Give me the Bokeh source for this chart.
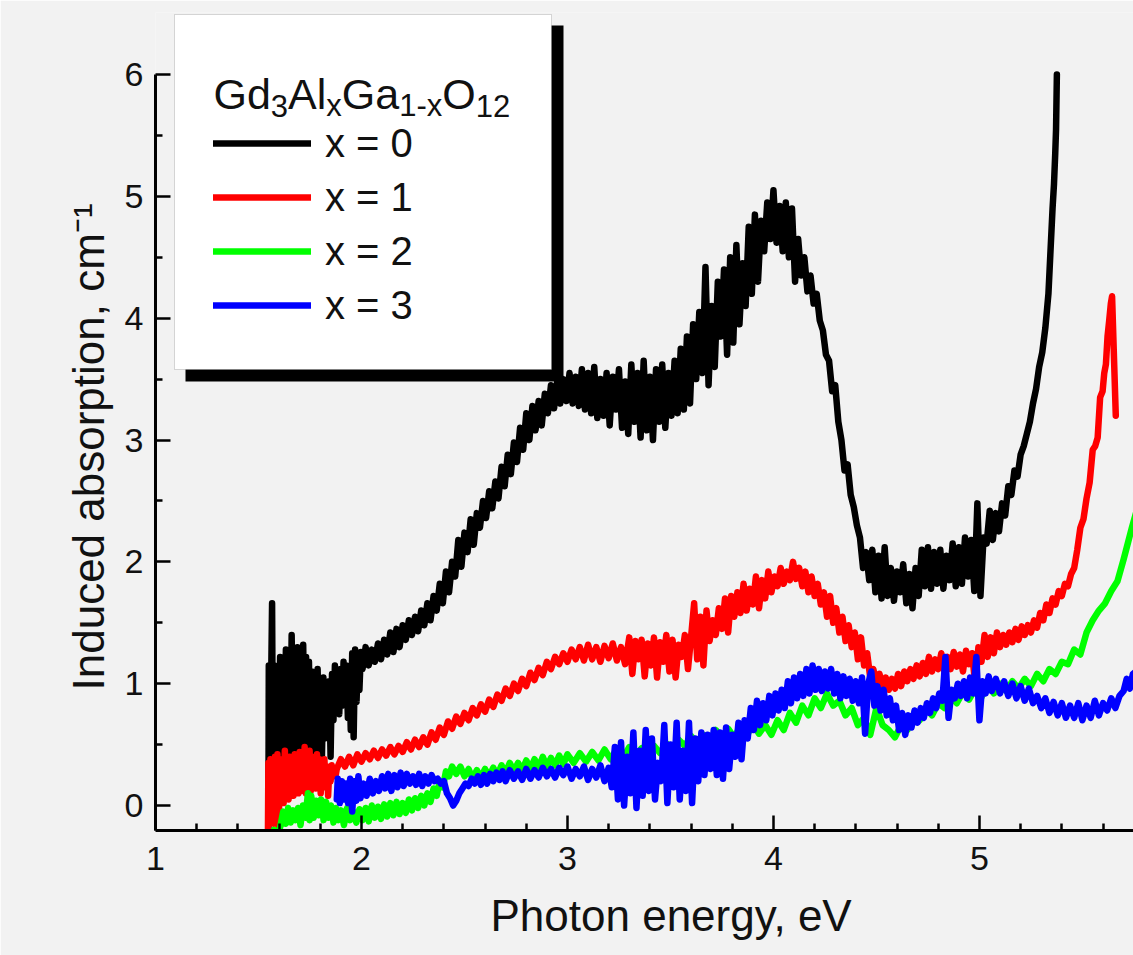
from bokeh.plotting import figure
from bokeh.models import Range1d, FixedTicker, BoxAnnotation, Label, Legend, LegendItem, Title
from bokeh.embed import file_html
from bokeh.resources import INLINE

# ---------------- data ----------------
X_TICKS = [1, 2, 3, 4, 5]
X_MINOR = [1.2, 1.4, 1.6, 1.8, 2.2, 2.4, 2.6, 2.8, 3.2, 3.4, 3.6, 3.8,
           4.2, 4.4, 4.6, 4.8, 5.2, 5.4, 5.6]
Y_TICKS = [0, 1, 2, 3, 4, 5, 6]
Y_MINOR = [0.5, 1.5, 2.5, 3.5, 4.5, 5.5]

X_TITLE = "Photon energy, eV"
Y_TITLE = "Induced absorption, cm\u207b\u00b9"
SERIES_LABELS = ["x = 0", "x = 1", "x = 2", "x = 3"]

BLACK = [
    (1.548, -0.20), (1.550, 1.15), (1.556, 0.20), (1.562, 1.10), (1.566, 1.66), (1.570, 0.30),
    (1.577, 1.15), (1.584, 0.25), (1.591, 1.05), (1.598, 0.35), (1.605, 1.22), (1.612, 0.30),
    (1.619, 1.15), (1.626, 0.40), (1.633, 1.28), (1.640, 0.35), (1.647, 1.20), (1.654, 0.45),
    (1.661, 1.40), (1.668, 0.40), (1.675, 1.25), (1.682, 0.35), (1.689, 1.30), (1.696, 0.45),
    (1.703, 1.20), (1.710, 0.40), (1.717, 1.32), (1.724, 0.50), (1.731, 1.22), (1.738, 0.45),
    (1.745, 1.18), (1.752, 0.40), (1.759, 1.10), (1.766, 0.50), (1.773, 1.05), (1.780, 0.35),
    (1.787, 1.12), (1.794, 0.55), (1.801, 0.98), (1.808, 0.40), (1.815, 1.05), (1.822, 0.55),
    (1.829, 0.95), (1.836, 0.60), (1.843, 1.02), (1.850, 0.40), (1.857, 1.08), (1.864, 0.70),
    (1.871, 1.15), (1.878, 0.85), (1.885, 1.05), (1.892, 0.75), (1.899, 1.12), (1.906, 0.82),
    (1.913, 1.18), (1.920, 0.88), (1.927, 1.15), (1.934, 0.72), (1.941, 1.08), (1.948, 0.62),
    (1.955, 1.25), (1.962, 0.56), (1.969, 1.28), (1.976, 0.85), (1.983, 1.22), (1.990, 0.95),
    (1.997, 1.26),
    (2.005, 1.12), (2.020, 1.30), (2.035, 1.15), (2.050, 1.28), (2.065, 1.18), (2.080, 1.33),
    (2.095, 1.20), (2.110, 1.36), (2.125, 1.24), (2.140, 1.42), (2.155, 1.26), (2.170, 1.45),
    (2.185, 1.30), (2.200, 1.48), (2.215, 1.36), (2.230, 1.52), (2.245, 1.40), (2.260, 1.55),
    (2.275, 1.43), (2.290, 1.60), (2.305, 1.48), (2.320, 1.66), (2.335, 1.52), (2.350, 1.72),
    (2.365, 1.60), (2.380, 1.82), (2.395, 1.66), (2.410, 1.92), (2.425, 1.75), (2.440, 2.00),
    (2.455, 1.88), (2.470, 2.18), (2.485, 1.96), (2.500, 2.24), (2.515, 2.08), (2.530, 2.35),
    (2.545, 2.14), (2.560, 2.40), (2.575, 2.28), (2.590, 2.50), (2.605, 2.36), (2.620, 2.58),
    (2.635, 2.44), (2.650, 2.66), (2.665, 2.52), (2.680, 2.78), (2.695, 2.62), (2.710, 2.88),
    (2.725, 2.72), (2.740, 2.98), (2.755, 2.82), (2.770, 3.10), (2.785, 2.92), (2.800, 3.22),
    (2.815, 3.00), (2.830, 3.28), (2.845, 3.08), (2.860, 3.32), (2.875, 3.12), (2.890, 3.38),
    (2.905, 3.22), (2.920, 3.45), (2.935, 3.26), (2.950, 3.48), (2.965, 3.30), (2.980, 3.50),
    (2.995, 3.32),
    (3.010, 3.55), (3.025, 3.30), (3.040, 3.52), (3.055, 3.28), (3.070, 3.58), (3.085, 3.25),
    (3.100, 3.55), (3.115, 3.22), (3.130, 3.60), (3.145, 3.18), (3.160, 3.50), (3.175, 3.20),
    (3.190, 3.55), (3.205, 3.12), (3.220, 3.52), (3.235, 3.25), (3.250, 3.58), (3.265, 3.10),
    (3.280, 3.48), (3.295, 3.05), (3.310, 3.62), (3.325, 3.15), (3.340, 3.55), (3.355, 3.02),
    (3.370, 3.65), (3.385, 3.08), (3.400, 3.52), (3.415, 3.00), (3.430, 3.58), (3.445, 3.15),
    (3.460, 3.62), (3.475, 3.10), (3.490, 3.55), (3.505, 3.20), (3.520, 3.65), (3.535, 3.22),
    (3.550, 3.75),
    (3.565, 3.25), (3.580, 3.85), (3.595, 3.30), (3.610, 3.95), (3.625, 3.50), (3.640, 4.05),
    (3.655, 3.55), (3.670, 4.42), (3.685, 3.45), (3.700, 4.10), (3.715, 3.60), (3.730, 4.30),
    (3.745, 3.85), (3.760, 4.40), (3.775, 3.70), (3.790, 4.50), (3.805, 3.80), (3.820, 4.60),
    (3.835, 3.95), (3.850, 4.45), (3.865, 4.10), (3.880, 4.75), (3.895, 4.20), (3.910, 4.85),
    (3.925, 4.30), (3.940, 4.80), (3.955, 4.55), (3.970, 4.95), (3.985, 4.65), (4.000, 5.05),
    (4.015, 4.62), (4.030, 4.92), (4.045, 4.55), (4.060, 4.95), (4.075, 4.50), (4.090, 4.90),
    (4.105, 4.30), (4.120, 4.65), (4.135, 4.35), (4.150, 4.50), (4.165, 4.22), (4.180, 4.35),
    (4.195, 4.12), (4.210, 4.20), (4.225, 3.98), (4.240, 3.90), (4.255, 3.70), (4.270, 3.65),
    (4.285, 3.40), (4.300, 3.45),
    (4.315, 3.15), (4.330, 3.00), (4.345, 2.75), (4.360, 2.80), (4.375, 2.55), (4.390, 2.45),
    (4.405, 2.30), (4.420, 2.20), (4.435, 1.95), (4.450, 2.08),
    (4.465, 1.85), (4.480, 2.10), (4.495, 1.75), (4.510, 2.05), (4.525, 1.70), (4.540, 2.12),
    (4.555, 1.72), (4.570, 1.95), (4.585, 1.68), (4.600, 1.92), (4.615, 1.75), (4.630, 1.98),
    (4.645, 1.66), (4.660, 1.90), (4.675, 1.62), (4.690, 1.95), (4.705, 1.72), (4.720, 2.10),
    (4.735, 1.80), (4.750, 2.12), (4.765, 1.78), (4.780, 2.08), (4.795, 1.82), (4.810, 2.10),
    (4.825, 1.78), (4.840, 2.05), (4.855, 1.85), (4.870, 2.15), (4.885, 1.80), (4.900, 2.12),
    (4.915, 1.82), (4.930, 2.20), (4.945, 1.88), (4.960, 2.18), (4.975, 1.76), (4.990, 2.48),
    (5.005, 1.72), (5.020, 2.20),
    (5.035, 2.15), (5.050, 2.42), (5.065, 2.18), (5.080, 2.40), (5.095, 2.25), (5.110, 2.48),
    (5.125, 2.38), (5.140, 2.62), (5.155, 2.55), (5.170, 2.75), (5.185, 2.70), (5.200, 2.88),
    (5.215, 2.95), (5.230, 3.05), (5.245, 3.15), (5.260, 3.30), (5.275, 3.42), (5.290, 3.60),
    (5.305, 3.72), (5.320, 3.92), (5.335, 4.20), (5.345, 4.55), (5.355, 4.90), (5.362, 5.10),
    (5.368, 5.35), (5.372, 5.55), (5.376, 6.00),
]

RED = [
    (1.546, -0.20), (1.548, 0.35), (1.553, -0.10), (1.558, 0.38), (1.563, 0.00), (1.568, 0.30),
    (1.574, -0.15), (1.580, 0.40), (1.586, 0.05), (1.592, 0.42), (1.598, -0.18), (1.604, 0.33),
    (1.610, 0.08), (1.616, 0.38), (1.622, 0.02), (1.628, 0.45), (1.634, 0.10), (1.640, 0.35),
    (1.646, 0.05), (1.652, 0.40), (1.658, 0.12), (1.664, 0.36), (1.670, 0.08), (1.676, 0.42),
    (1.682, 0.15), (1.688, 0.38), (1.694, 0.10), (1.700, 0.44), (1.706, 0.12), (1.712, 0.40),
    (1.718, 0.18), (1.724, 0.48), (1.730, 0.10), (1.736, 0.38), (1.742, 0.15), (1.748, 0.45),
    (1.754, 0.12), (1.760, 0.40), (1.766, 0.20), (1.772, 0.36), (1.778, 0.14), (1.784, 0.42),
    (1.790, 0.18), (1.796, 0.38), (1.802, 0.10), (1.808, 0.35), (1.814, 0.22), (1.820, 0.38),
    (1.826, 0.15), (1.832, 0.32), (1.838, 0.08), (1.844, 0.30), (1.850, 0.20), (1.856, 0.33),
    (1.862, 0.25), (1.868, 0.30), (1.874, 0.24),
    (1.880, 0.30), (1.900, 0.38), (1.920, 0.32), (1.940, 0.40), (1.960, 0.33), (1.980, 0.42),
    (2.000, 0.36), (2.020, 0.43), (2.040, 0.38), (2.060, 0.45), (2.080, 0.39), (2.100, 0.46),
    (2.120, 0.41), (2.140, 0.48), (2.160, 0.42), (2.180, 0.49), (2.200, 0.44), (2.220, 0.52),
    (2.240, 0.46), (2.260, 0.54), (2.280, 0.48), (2.300, 0.56), (2.320, 0.50), (2.340, 0.60),
    (2.360, 0.54), (2.380, 0.64), (2.400, 0.58), (2.420, 0.69), (2.440, 0.63), (2.460, 0.73),
    (2.480, 0.67), (2.500, 0.76), (2.520, 0.70), (2.540, 0.80), (2.560, 0.74), (2.580, 0.83),
    (2.600, 0.77), (2.620, 0.87), (2.640, 0.81), (2.660, 0.91), (2.680, 0.86), (2.700, 0.96),
    (2.720, 0.90), (2.740, 1.00), (2.760, 0.94), (2.780, 1.04), (2.800, 0.98), (2.820, 1.09),
    (2.840, 1.03), (2.860, 1.13), (2.880, 1.07), (2.900, 1.18), (2.920, 1.12), (2.940, 1.22),
    (2.960, 1.16), (2.980, 1.25), (3.000, 1.18),
    (3.020, 1.28), (3.040, 1.20), (3.060, 1.30), (3.080, 1.19), (3.100, 1.32), (3.120, 1.20),
    (3.140, 1.30), (3.160, 1.18), (3.180, 1.31), (3.200, 1.21), (3.220, 1.33), (3.240, 1.19),
    (3.260, 1.30), (3.280, 1.16), (3.300, 1.38), (3.315, 1.08), (3.330, 1.35), (3.345, 1.20),
    (3.360, 1.36), (3.375, 1.06), (3.390, 1.33), (3.405, 1.15), (3.420, 1.38), (3.435, 1.05),
    (3.450, 1.34), (3.465, 1.18), (3.480, 1.40), (3.495, 1.10), (3.510, 1.36), (3.525, 1.05),
    (3.540, 1.32), (3.555, 1.22), (3.570, 1.40), (3.585, 1.12), (3.600, 1.38),
    (3.615, 1.66), (3.630, 1.20), (3.645, 1.55), (3.660, 1.15), (3.675, 1.60), (3.690, 1.35),
    (3.705, 1.52), (3.720, 1.40), (3.735, 1.62), (3.750, 1.45), (3.765, 1.70), (3.780, 1.42),
    (3.795, 1.72), (3.810, 1.55), (3.825, 1.75), (3.840, 1.58), (3.855, 1.82), (3.870, 1.60),
    (3.885, 1.78), (3.900, 1.65), (3.915, 1.88), (3.930, 1.62), (3.945, 1.85), (3.960, 1.70),
    (3.975, 1.92), (3.990, 1.75), (4.005, 1.88), (4.020, 1.80), (4.035, 1.95), (4.050, 1.82),
    (4.065, 1.92), (4.080, 1.85), (4.095, 2.00), (4.110, 1.86), (4.125, 1.95), (4.140, 1.80),
    (4.155, 1.92), (4.170, 1.75), (4.185, 1.88), (4.200, 1.72), (4.215, 1.82), (4.230, 1.65),
    (4.245, 1.75), (4.260, 1.55), (4.275, 1.72), (4.290, 1.50), (4.305, 1.62), (4.320, 1.42),
    (4.335, 1.55), (4.350, 1.35), (4.365, 1.48), (4.380, 1.30), (4.395, 1.42), (4.410, 1.20),
    (4.425, 1.38), (4.440, 1.15), (4.455, 1.25), (4.470, 1.05), (4.485, 1.12), (4.500, 1.00),
    (4.515, 1.08), (4.530, 0.98), (4.545, 1.05),
    (4.560, 0.95), (4.575, 1.04), (4.590, 0.96), (4.605, 1.08), (4.620, 0.98), (4.635, 1.10),
    (4.650, 1.02), (4.665, 1.12), (4.680, 1.04), (4.695, 1.15), (4.710, 1.06), (4.725, 1.17),
    (4.740, 1.08), (4.755, 1.22), (4.770, 1.10), (4.785, 1.20), (4.800, 1.12), (4.815, 1.25),
    (4.830, 1.10), (4.845, 1.22), (4.860, 1.12), (4.875, 1.26), (4.890, 1.14), (4.905, 1.24),
    (4.920, 1.10), (4.935, 1.27), (4.950, 1.16), (4.965, 1.25), (4.980, 0.98), (4.995, 1.30),
    (5.010, 1.18), (5.025, 1.40), (5.040, 1.22), (5.055, 1.38), (5.070, 1.25), (5.085, 1.42),
    (5.100, 1.30), (5.115, 1.40), (5.130, 1.32), (5.145, 1.42), (5.160, 1.34), (5.175, 1.45),
    (5.190, 1.36), (5.205, 1.47), (5.220, 1.40), (5.235, 1.48), (5.250, 1.42), (5.265, 1.52),
    (5.280, 1.46), (5.295, 1.58), (5.310, 1.52), (5.325, 1.65), (5.340, 1.58), (5.355, 1.70),
    (5.370, 1.65), (5.385, 1.76), (5.400, 1.72), (5.415, 1.82), (5.430, 1.80), (5.445, 1.90),
    (5.460, 1.95), (5.475, 2.10), (5.490, 2.28), (5.505, 2.35), (5.520, 2.52), (5.535, 2.65),
    (5.550, 2.92), (5.562, 2.95), (5.574, 3.02), (5.586, 3.35), (5.598, 3.40), (5.606, 3.55),
    (5.614, 3.62), (5.622, 3.85), (5.630, 3.98), (5.638, 4.12), (5.644, 4.18), (5.662, 3.20),
]

GREEN = [
    (1.560, -0.25), (1.575, -0.20), (1.590, -0.24), (1.605, -0.18), (1.620, -0.05), (1.632, -0.15),
    (1.644, -0.02), (1.656, -0.14), (1.668, -0.04), (1.680, -0.12), (1.692, -0.02), (1.704, -0.16),
    (1.716, 0.00), (1.728, -0.10), (1.740, 0.10), (1.748, -0.12), (1.756, 0.08), (1.768, -0.10),
    (1.780, 0.04), (1.792, -0.08), (1.804, 0.05), (1.816, -0.12), (1.828, 0.03), (1.840, -0.10),
    (1.852, 0.00), (1.864, -0.14), (1.876, -0.02), (1.888, -0.12), (1.900, -0.04), (1.915, -0.16),
    (1.930, -0.02), (1.945, -0.12), (1.960, -0.05), (1.975, -0.14), (1.990, -0.03),
    (2.005, -0.12), (2.020, -0.02), (2.035, -0.13), (2.050, 0.00), (2.065, -0.10), (2.080, -0.01),
    (2.095, -0.11), (2.110, 0.01), (2.125, -0.09), (2.140, 0.02), (2.155, -0.08), (2.170, 0.03),
    (2.185, -0.07), (2.200, 0.02), (2.215, -0.06), (2.230, 0.05), (2.245, -0.04), (2.260, 0.06),
    (2.275, -0.02), (2.290, 0.08), (2.305, 0.00), (2.320, 0.10), (2.335, 0.03), (2.350, 0.14),
    (2.365, 0.08), (2.380, 0.20), (2.395, 0.15), (2.410, 0.28), (2.425, 0.24), (2.440, 0.32),
    (2.460, 0.26), (2.480, 0.32), (2.500, 0.24), (2.520, 0.30), (2.540, 0.22), (2.560, 0.29),
    (2.580, 0.23), (2.600, 0.30), (2.620, 0.24), (2.640, 0.31), (2.660, 0.25), (2.680, 0.33),
    (2.700, 0.27), (2.720, 0.35), (2.740, 0.28), (2.760, 0.35), (2.780, 0.29), (2.800, 0.37),
    (2.820, 0.30), (2.840, 0.38), (2.860, 0.31), (2.880, 0.40), (2.900, 0.32), (2.920, 0.39),
    (2.940, 0.33), (2.960, 0.41), (2.980, 0.34), (3.000, 0.42), (3.030, 0.35), (3.060, 0.43),
    (3.090, 0.36), (3.120, 0.44), (3.150, 0.37), (3.180, 0.46), (3.210, 0.38), (3.240, 0.47),
    (3.270, 0.39), (3.300, 0.48), (3.330, 0.40), (3.360, 0.47), (3.390, 0.41), (3.420, 0.49),
    (3.450, 0.43), (3.480, 0.51), (3.510, 0.46), (3.540, 0.54), (3.570, 0.49), (3.600, 0.57),
    (3.630, 0.51), (3.660, 0.58), (3.690, 0.53), (3.720, 0.62), (3.750, 0.55), (3.780, 0.63),
    (3.810, 0.56), (3.840, 0.65), (3.870, 0.57), (3.900, 0.67), (3.930, 0.59),
    (3.960, 0.66), (3.990, 0.58), (4.020, 0.70), (4.050, 0.62), (4.080, 0.76), (4.110, 0.68),
    (4.140, 0.82), (4.170, 0.74), (4.200, 0.88), (4.230, 0.80), (4.260, 0.92), (4.290, 0.82),
    (4.320, 0.86), (4.350, 0.74), (4.380, 0.80), (4.410, 0.66), (4.440, 0.72), (4.470, 0.58),
    (4.500, 0.80), (4.530, 0.66), (4.560, 0.62), (4.590, 0.56), (4.620, 0.66), (4.650, 0.62),
    (4.680, 0.74), (4.710, 0.70), (4.740, 0.80), (4.770, 0.74), (4.800, 0.84), (4.830, 0.80),
    (4.860, 0.90), (4.890, 0.84), (4.920, 0.93), (4.950, 0.87), (4.980, 0.96), (5.010, 0.89),
    (5.040, 0.99), (5.070, 0.92), (5.100, 1.00), (5.130, 0.94), (5.160, 1.02), (5.190, 0.96),
    (5.220, 1.04), (5.250, 0.98), (5.280, 1.08), (5.310, 1.02), (5.340, 1.12), (5.370, 1.08),
    (5.400, 1.18), (5.430, 1.16), (5.460, 1.28), (5.490, 1.24), (5.520, 1.42), (5.550, 1.52),
    (5.580, 1.60), (5.610, 1.66), (5.640, 1.76), (5.670, 1.84), (5.700, 2.02), (5.720, 2.15),
    (5.740, 2.28), (5.760, 2.40),
]

BLUE = [
    (1.880, 0.05), (1.885, 0.22), (1.895, 0.02), (1.905, 0.20), (1.915, 0.05), (1.925, 0.18),
    (1.935, 0.02), (1.945, 0.22), (1.955, -0.05), (1.965, 0.20), (1.975, 0.04), (1.985, 0.24),
    (1.995, 0.06), (2.010, 0.18), (2.025, 0.08), (2.040, 0.22), (2.055, 0.10), (2.070, 0.20),
    (2.085, 0.12), (2.100, 0.24), (2.115, 0.14), (2.130, 0.26), (2.145, 0.12), (2.160, 0.25),
    (2.175, 0.15), (2.190, 0.27), (2.205, 0.16), (2.220, 0.26), (2.235, 0.18), (2.250, 0.24),
    (2.265, 0.17), (2.280, 0.26), (2.295, 0.16), (2.310, 0.24), (2.325, 0.18), (2.340, 0.25),
    (2.355, 0.20), (2.370, 0.22), (2.385, 0.18), (2.400, 0.20), (2.415, 0.10), (2.430, 0.06),
    (2.445, 0.00), (2.460, 0.04), (2.475, 0.10), (2.490, 0.14), (2.505, 0.18), (2.520, 0.16),
    (2.535, 0.22), (2.550, 0.18), (2.565, 0.24), (2.580, 0.17), (2.595, 0.25), (2.610, 0.18),
    (2.625, 0.26), (2.640, 0.20), (2.655, 0.27), (2.670, 0.21), (2.685, 0.28), (2.700, 0.20),
    (2.720, 0.29), (2.740, 0.22), (2.760, 0.28), (2.780, 0.21), (2.800, 0.30), (2.820, 0.22),
    (2.840, 0.29), (2.860, 0.23), (2.880, 0.31), (2.900, 0.24), (2.920, 0.30), (2.940, 0.23),
    (2.960, 0.31), (2.980, 0.25), (3.000, 0.32), (3.020, 0.22), (3.040, 0.30), (3.060, 0.24),
    (3.080, 0.32), (3.100, 0.21), (3.120, 0.30), (3.140, 0.23), (3.160, 0.33), (3.180, 0.20),
    (3.200, 0.31),
    (3.215, 0.15), (3.230, 0.48), (3.245, 0.05), (3.260, 0.52), (3.275, 0.00), (3.290, 0.40),
    (3.305, 0.10), (3.320, 0.60), (3.335, -0.02), (3.350, 0.45), (3.365, 0.08), (3.380, 0.62),
    (3.395, 0.12), (3.410, 0.55), (3.425, 0.05), (3.440, 0.35), (3.455, 0.20), (3.470, 0.66),
    (3.485, 0.02), (3.500, 0.50), (3.515, 0.15), (3.530, 0.68), (3.545, 0.05), (3.560, 0.45),
    (3.575, 0.12), (3.590, 0.68), (3.605, 0.02), (3.620, 0.55), (3.635, 0.20), (3.650, 0.60),
    (3.665, 0.25), (3.680, 0.58), (3.695, 0.30), (3.710, 0.62),
    (3.725, 0.25), (3.740, 0.60), (3.755, 0.22), (3.770, 0.64), (3.785, 0.30), (3.800, 0.58),
    (3.815, 0.40), (3.830, 0.68), (3.845, 0.38), (3.860, 0.70), (3.875, 0.55), (3.890, 0.80),
    (3.905, 0.62), (3.920, 0.86), (3.935, 0.66), (3.950, 0.84), (3.965, 0.70), (3.980, 0.90),
    (3.995, 0.74), (4.010, 0.92), (4.025, 0.78), (4.040, 0.95), (4.055, 0.80), (4.070, 1.02),
    (4.085, 0.84), (4.100, 1.05), (4.115, 0.88), (4.130, 1.08), (4.145, 0.90), (4.160, 1.12),
    (4.175, 0.92), (4.190, 1.15), (4.205, 0.95), (4.220, 1.12), (4.235, 0.94), (4.250, 1.10),
    (4.265, 0.96), (4.280, 1.12), (4.295, 0.92), (4.310, 1.08), (4.325, 0.88), (4.340, 1.06),
    (4.355, 0.90), (4.370, 1.04), (4.385, 0.86), (4.400, 1.02), (4.415, 0.84), (4.430, 1.05),
    (4.445, 0.59), (4.460, 1.00), (4.475, 1.10), (4.490, 0.82), (4.505, 0.98), (4.520, 0.78),
    (4.535, 0.95), (4.550, 0.74), (4.565, 0.88), (4.580, 0.70), (4.595, 0.82), (4.610, 0.62),
    (4.625, 0.76), (4.640, 0.58), (4.655, 0.74), (4.670, 0.64), (4.685, 0.78), (4.700, 0.68),
    (4.715, 0.80), (4.730, 0.72), (4.745, 0.84), (4.760, 0.76), (4.775, 0.88), (4.790, 0.80),
    (4.805, 0.92), (4.820, 0.86), (4.835, 1.22), (4.850, 0.72), (4.865, 0.95), (4.880, 0.88),
    (4.895, 1.00), (4.910, 0.90), (4.925, 1.02), (4.940, 0.88), (4.955, 1.05), (4.970, 0.92),
    (4.985, 1.22), (5.000, 0.70), (5.015, 1.02), (5.030, 0.92), (5.045, 1.06), (5.060, 0.94),
    (5.080, 1.04), (5.100, 0.92), (5.120, 1.02), (5.140, 0.90), (5.160, 1.00), (5.180, 0.88),
    (5.200, 0.98), (5.220, 0.86), (5.240, 0.96), (5.260, 0.84), (5.280, 0.90), (5.300, 0.80),
    (5.320, 0.88), (5.340, 0.76), (5.360, 0.85), (5.380, 0.74), (5.400, 0.84), (5.420, 0.72),
    (5.440, 0.82), (5.460, 0.72), (5.480, 0.84), (5.500, 0.70), (5.520, 0.82), (5.540, 0.72),
    (5.560, 0.86), (5.580, 0.74), (5.600, 0.84), (5.620, 0.78), (5.640, 0.88), (5.660, 0.80),
    (5.680, 0.90), (5.700, 0.94), (5.715, 1.04), (5.730, 0.96), (5.745, 1.08), (5.760, 1.10),
]

COLORS = ["#000000", "#ff0000", "#00ff00", "#0000ff"]

# ---------------- figure ----------------
FONT = "Liberation Sans"
BG = "#f2f2f2"
TXT = "#111111"

# frame reaches up to the legend box; the y axis itself stops at 6
p = figure(width=1133, height=955, output_backend="svg", toolbar_location=None,
           x_range=Range1d(1.0, 5.748), y_range=Range1d(-0.205, 6.509),
           min_border_left=155, min_border_right=0, min_border_top=12, min_border_bottom=125,
           background_fill_color=BG, border_fill_color=BG, outline_line_color=None)
p.grid.visible = False

renderers = []
for data, col in zip([BLACK, RED, GREEN, BLUE], COLORS):
    xs = [d[0] for d in data]
    ys = [d[1] for d in data]
    r = p.line(xs, ys, line_color=col, line_width=6.5, line_join="round", line_cap="round")
    renderers.append(r)

# axes
p.xaxis.ticker = FixedTicker(ticks=X_TICKS, minor_ticks=X_MINOR)
p.yaxis.ticker = FixedTicker(ticks=Y_TICKS, minor_ticks=Y_MINOR)
p.yaxis.bounds = (-0.205, 6.0)
for ax in (p.xaxis[0], p.yaxis[0]):
    ax.axis_line_width = 3
    ax.axis_line_color = "black"
    ax.major_tick_in = 15
    ax.major_tick_out = 0
    ax.minor_tick_in = 7
    ax.minor_tick_out = 0
    ax.major_tick_line_width = 2.5
    ax.minor_tick_line_width = 2.5
    ax.major_tick_line_color = "black"
    ax.minor_tick_line_color = "black"
    ax.major_label_text_font = FONT
    ax.major_label_text_font_size = "34px"
    ax.major_label_text_color = TXT
p.xaxis.major_label_standoff = 16
p.yaxis.major_label_standoff = 12

# axis titles as side titles so they can be shifted like in the original
# (there the x axis runs on past the crop, so its title sits right of centre)
p.add_layout(Title(text=Y_TITLE, align="left", offset=140, standoff=17,
                   text_font=FONT, text_font_size="44px", text_font_style="normal",
                   text_color=TXT), "left")
p.add_layout(Title(text=X_TITLE, align="left", offset=335, standoff=32,
                   text_font=FONT, text_font_size="44px", text_font_style="normal",
                   text_color=TXT), "below")

# legend frame with shadow
shadow = BoxAnnotation(left=185, right=563, top=25, bottom=381,
                       left_units="canvas", right_units="canvas",
                       top_units="canvas", bottom_units="canvas",
                       fill_color="black", fill_alpha=1.0, line_color=None)
box = BoxAnnotation(left=174, right=551, top=14, bottom=369,
                    left_units="canvas", right_units="canvas",
                    top_units="canvas", bottom_units="canvas",
                    fill_color="white", fill_alpha=1.0, line_color="#7f7f7f", line_width=1)
p.add_layout(shadow)
p.add_layout(box)

legend = Legend(items=[LegendItem(label=lab, renderers=[r]) for lab, r in zip(SERIES_LABELS, renderers)],
                location=(58, 502), orientation="vertical",
                background_fill_alpha=0, border_line_color=None,
                glyph_width=98, glyph_height=46, label_height=46, spacing=8,
                padding=0, margin=0, label_standoff=14,
                label_text_font=FONT, label_text_font_size="40px", label_text_color=TXT)
p.add_layout(legend)

# legend title with subscripts: Gd3AlxGa1-xO12
ADV = {"G": 0.778, "d": 0.556, "A": 0.667, "l": 0.222, "a": 0.556, "O": 0.778,
       "x": 0.5, "-": 0.333, "1": 0.556, "2": 0.556, "3": 0.556}
parts = [("Gd", False), ("3", True), ("Al", False), ("x", True), ("Ga", False),
         ("1-x", True), ("O", False), ("12", True)]
MAIN, SUB = 43, 31
cx = 213.0
for txt, is_sub in parts:
    fs = SUB if is_sub else MAIN
    lab = Label(x=cx, y=105 if is_sub else 93, x_units="canvas", y_units="canvas",
                text=txt, text_font=FONT, text_font_size=f"{fs}px",
                text_baseline="alphabetic", text_align="left", text_color=TXT)
    p.add_layout(lab)
    cx += sum(ADV[c] for c in txt) * fs

open("out.html", "w").write(file_html(p, INLINE))
